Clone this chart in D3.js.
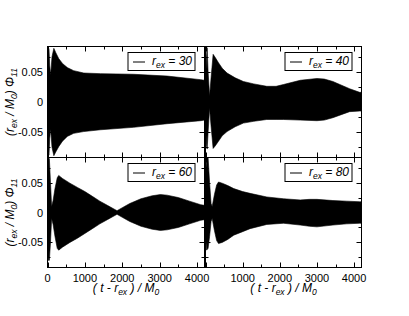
<!DOCTYPE html>
<html>
<head>
<meta charset="utf-8">
<script src="https://cdn.jsdelivr.net/npm/d3@7"></script>
<style>
  html, body { margin: 0; padding: 0; background: #fff; }
  svg { display: block; }
  text { font-family: "Liberation Sans", Arial, Helvetica, sans-serif; }
</style>
</head>
<body>
<svg id="chart" width="409" height="316"></svg>
<script>
// ---------------- data (envelopes) ----------------
const panelLabels = ["30", "40", "60", "80"];
const xTickValues = [0, 1000, 2000, 3000, 4000];
const yTickValues = [-0.05, 0, 0.05];
const yTickLabels = ["-0.05", "0", "0.05"];

const t30 = [0, 15, 40, 60, 85, 120, 170, 220, 300, 400, 530, 700, 970, 1420, 2300, 3200, 4100, 4200];
const upper30 = [0.03, 0.09, 0.088, 0.06, 0.045, 0.075, 0.089, 0.082, 0.072, 0.064, 0.057, 0.052, 0.048, 0.047, 0.046, 0.043, 0.037, 0.036];
const lower30 = [-0.03, -0.085, -0.088, -0.06, -0.045, -0.075, -0.089, -0.083, -0.074, -0.065, -0.057, -0.052, -0.049, -0.046, -0.042, -0.036, -0.031, -0.030];

const t40 = [0, 20, 45, 70, 110, 150, 205, 260, 350, 450, 580, 800, 1020, 1300, 1650, 1900, 2100, 2550, 3000, 3200, 3430, 3880, 4150, 4200];
const upper40 = [0.02, 0.07, 0.09, 0.05, 0.01, 0.04, 0.079, 0.074, 0.065, 0.056, 0.048, 0.040, 0.034, 0.030, 0.026, 0.026, 0.029, 0.036, 0.039, 0.038, 0.034, 0.022, 0.016, 0.016];
const lower40 = [-0.02, -0.07, -0.078, -0.05, -0.01, -0.04, -0.077, -0.073, -0.065, -0.056, -0.049, -0.041, -0.035, -0.032, -0.029, -0.029, -0.029, -0.030, -0.031, -0.030, -0.026, -0.016, -0.015, -0.015];

const t60 = [0, 20, 50, 80, 110, 150, 200, 260, 300, 400, 600, 800, 1000, 1200, 1400, 1600, 1860, 2000, 2200, 2500, 2800, 3020, 3200, 3500, 3800, 4100, 4200];
const upper60 = [0.07, 0.092, 0.09, 0.05, 0.01, 0.02, 0.04, 0.058, 0.062, 0.057, 0.049, 0.042, 0.035, 0.027, 0.019, 0.012, 0.003, 0.008, 0.015, 0.023, 0.028, 0.030, 0.029, 0.025, 0.019, 0.013, 0.012];
const lower60 = [-0.06, -0.08, -0.08, -0.05, -0.01, -0.02, -0.04, -0.06, -0.063, -0.058, -0.05, -0.043, -0.035, -0.027, -0.019, -0.012, -0.003, -0.008, -0.015, -0.023, -0.028, -0.030, -0.029, -0.025, -0.019, -0.013, -0.012];

const t80 = [0, 30, 70, 110, 150, 180, 240, 300, 350, 450, 600, 760, 1000, 1200, 1650, 2100, 2550, 2800, 3000, 3430, 3800, 4150, 4200];
const upper80 = [0.06, 0.092, 0.092, 0.05, 0.015, 0.01, 0.03, 0.046, 0.051, 0.049, 0.045, 0.040, 0.035, 0.032, 0.026, 0.023, 0.021, 0.022, 0.022, 0.020, 0.019, 0.018, 0.018];
const lower80 = [-0.04, -0.063, -0.06, -0.04, -0.015, -0.01, -0.03, -0.047, -0.052, -0.050, -0.045, -0.038, -0.032, -0.027, -0.020, -0.018, -0.021, -0.023, -0.024, -0.021, -0.019, -0.018, -0.018];

const seriesT = [t30, t40, t60, t80];
const seriesUpper = [upper30, upper40, upper60, upper80];
const seriesLower = [lower30, lower40, lower60, lower80];

// ---------------- layout ----------------
const svg = d3.select("#chart");
const cols = [[47.5, 204.5], [205.5, 361.5]];
const rows = [[46.5, 157.5], [157.5, 267.5]];
const xDomain = [0, 4200];
const yDomain = [-0.092, 0.092];

const defs = svg.append("defs");

for (let p = 0; p < 4; p++) {
  const c = p % 2, r = Math.floor(p / 2);
  const [x0, x1] = cols[c];
  const [y0, y1] = rows[r];
  const x = d3.scaleLinear().domain(xDomain).range([x0, x1]);
  const y = d3.scaleLinear().domain(yDomain).range([y1, y0]);

  defs.append("clipPath").attr("id", "clip" + p)
    .append("rect").attr("x", x0).attr("y", y0).attr("width", x1 - x0).attr("height", y1 - y0);

  const g = svg.append("g");
  const rowsData = seriesT[p].map((t, i) => ({ t, u: seriesUpper[p][i], l: seriesLower[p][i] }));
  const area = d3.area().x(d => x(d.t)).y0(d => y(d.l)).y1(d => y(d.u));

  g.append("path")
    .datum(rowsData)
    .attr("clip-path", "url(#clip" + p + ")")
    .attr("d", area)
    .attr("fill", "#000")
    .attr("stroke", "#000")
    .attr("stroke-width", 0.6);

  // ticks (inward, on all sides)
  const xMajor = xTickValues;
  const xMinor = [500, 1500, 2500, 3500];
  const yMinor = [-0.075, -0.025, 0.025, 0.075];
  const tk = g.append("g").attr("stroke", "#000").attr("stroke-width", 1);
  xMajor.concat(xMinor).forEach(v => {
    const len = xMajor.includes(v) ? 5 : 3;
    const px = Math.round(x(v)) + 0.5;
    tk.append("line").attr("x1", px).attr("x2", px).attr("y1", y0).attr("y2", y0 + len);
    tk.append("line").attr("x1", px).attr("x2", px).attr("y1", y1).attr("y2", y1 - len);
  });
  yTickValues.concat(yMinor).forEach(v => {
    const len = yTickValues.includes(v) ? 5 : 3;
    const py = Math.round(y(v)) + 0.5;
    tk.append("line").attr("y1", py).attr("y2", py).attr("x1", x0).attr("x2", x0 + len);
    tk.append("line").attr("y1", py).attr("y2", py).attr("x1", x1).attr("x2", x1 - len);
  });

  // frame
  g.append("rect").attr("x", x0).attr("y", y0).attr("width", x1 - x0).attr("height", y1 - y0)
    .attr("fill", "none").attr("stroke", "#000").attr("stroke-width", 1);

  // y tick labels on left column
  if (c === 0) {
    yTickValues.forEach((v, i) => {
      g.append("text").attr("x", 43).attr("y", y(v) + 4)
        .attr("text-anchor", "end").attr("font-size", 11).text(yTickLabels[i]);
    });
    const cy = (y0 + y1) / 2;
    const lab = g.append("text")
      .attr("transform", `translate(14,${cy}) rotate(-90)`)
      .attr("text-anchor", "middle").attr("font-size", 12).attr("font-style", "italic");
    lab.append("tspan").text("(r");
    lab.append("tspan").attr("dy", 3).attr("font-size", 8.5).text("ex");
    lab.append("tspan").attr("dy", -3).text(" / M");
    lab.append("tspan").attr("dy", 3).attr("font-size", 8.5).text("0");
    lab.append("tspan").attr("dy", -3).text(") \u03A6");
    lab.append("tspan").attr("dy", 3).attr("font-size", 8.5).text("11");
  }

  // x tick labels on bottom row
  if (r === 1) {
    xTickValues.forEach(v => {
      if (c === 1 && v === 0) return;
      g.append("text").attr("x", x(v)).attr("y", 281.5)
        .attr("text-anchor", "middle").attr("font-size", 11).text(d3.format("d")(v));
    });
    const lab = g.append("text")
      .attr("x", (x0 + x1) / 2).attr("y", 292)
      .attr("text-anchor", "middle").attr("font-size", 12).attr("font-style", "italic");
    lab.append("tspan").text("( t - r");
    lab.append("tspan").attr("dy", 3).attr("font-size", 8.5).text("ex");
    lab.append("tspan").attr("dy", -3).text(" ) / M");
    lab.append("tspan").attr("dy", 3).attr("font-size", 8.5).text("0");
  }

  // legend
  const lx1 = x1 - 9.5, lx0 = lx1 - 67, ly0 = y0 + 6, lh = 18;
  const lg = g.append("g");
  lg.append("rect").attr("x", lx0).attr("y", ly0).attr("width", lx1 - lx0).attr("height", lh)
    .attr("fill", "#fff").attr("stroke", "#000").attr("stroke-width", 1);
  lg.append("line").attr("x1", lx0 + 5).attr("x2", lx0 + 17).attr("y1", ly0 + 9.5).attr("y2", ly0 + 9.5)
    .attr("stroke", "#000").attr("stroke-width", 1);
  const lt = lg.append("text").attr("x", lx0 + 24).attr("y", ly0 + 12.5)
    .attr("font-size", 12).attr("font-style", "italic");
  lt.append("tspan").text("r");
  lt.append("tspan").attr("dy", 3).attr("font-size", 8.5).text("ex");
  lt.append("tspan").attr("dy", -3).text(" = " + panelLabels[p]);
}
</script>
</body>
</html>
